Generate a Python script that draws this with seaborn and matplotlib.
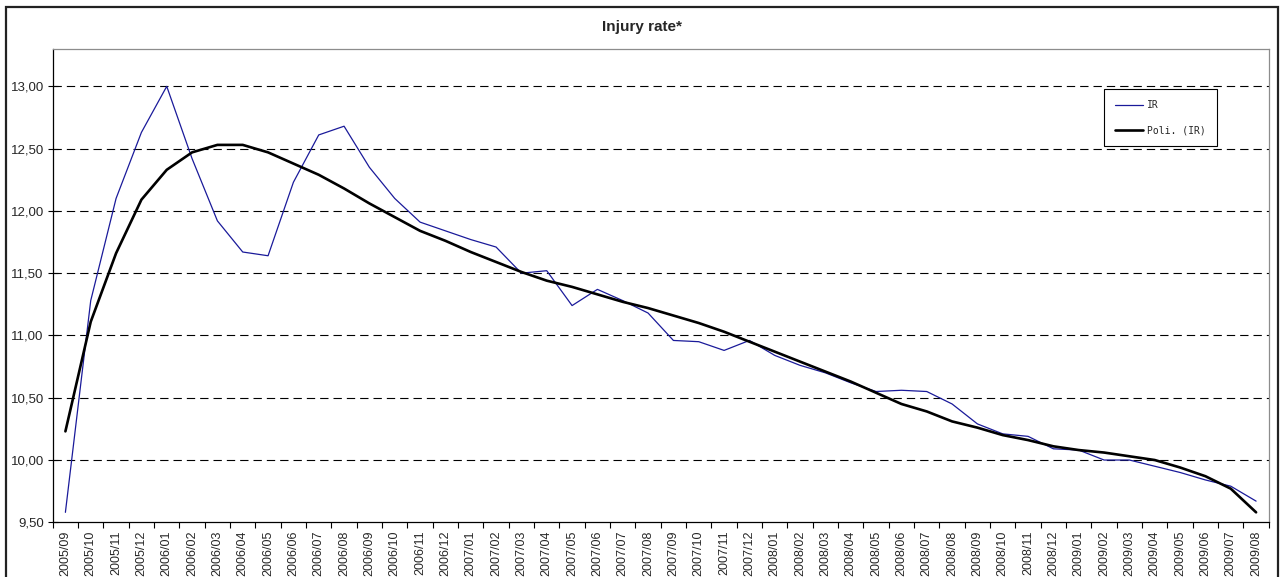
import numpy as np
import pandas as pd
import matplotlib
matplotlib.use("Agg")
import matplotlib.pyplot as plt
import seaborn as sns
from matplotlib.patches import Rectangle
from matplotlib.ticker import FuncFormatter

# Meses (etiquetas del eje x)
months = [
    "2005/09", "2005/10", "2005/11", "2005/12",
    "2006/01", "2006/02", "2006/03", "2006/04", "2006/05", "2006/06",
    "2006/07", "2006/08", "2006/09", "2006/10", "2006/11", "2006/12",
    "2007/01", "2007/02", "2007/03", "2007/04", "2007/05", "2007/06",
    "2007/07", "2007/08", "2007/09", "2007/10", "2007/11", "2007/12",
    "2008/01", "2008/02", "2008/03", "2008/04", "2008/05", "2008/06",
    "2008/07", "2008/08", "2008/09", "2008/10", "2008/11", "2008/12",
    "2009/01", "2009/02", "2009/03", "2009/04", "2009/05", "2009/06",
    "2009/07", "2009/08",
]

# Serie IR
ir = [
    9.58, 11.28, 12.10, 12.63, 13.00, 12.42, 11.92, 11.67, 11.64, 12.23,
    12.61, 12.68, 12.35, 12.10, 11.91, 11.84, 11.77, 11.71, 11.50, 11.52,
    11.24, 11.37, 11.28, 11.18, 10.96, 10.95, 10.88, 10.96, 10.84, 10.76,
    10.70, 10.62, 10.55, 10.56, 10.55, 10.45, 10.29, 10.21, 10.19, 10.09,
    10.08, 10.00, 10.00, 9.95, 9.90, 9.84, 9.79, 9.67,
]

# Linea de tendencia polinomica
trend = [
    10.23, 11.11, 11.66, 12.09, 12.33, 12.47, 12.53, 12.53, 12.47, 12.38,
    12.29, 12.18, 12.06, 11.95, 11.84, 11.76, 11.67, 11.59, 11.51, 11.44,
    11.39, 11.33, 11.27, 11.22, 11.16, 11.10, 11.03, 10.95, 10.87, 10.79,
    10.71, 10.63, 10.54, 10.45, 10.39, 10.31, 10.26, 10.20, 10.16, 10.11,
    10.08, 10.06, 10.03, 10.00, 9.94, 9.87, 9.77, 9.58,
]

yticks = [9.5, 10.0, 10.5, 11.0, 11.5, 12.0, 12.5, 13.0]

df = pd.DataFrame({"pos": np.arange(len(months)), "IR": ir, "trend": trend})

sns.set_style("white")
plt.rcParams["font.family"] = ["Liberation Sans", "DejaVu Sans"]

fig = plt.figure(figsize=(12.83, 5.77), dpi=100)
ax = fig.add_axes([0.0411, 0.0948, 0.9478, 0.8203])

# Borde exterior del grafico
fig.patches.append(Rectangle((6 / 1283, -0.05), 1271.5 / 1283, 1.05 - 7 / 577,
                             transform=fig.transFigure, fill=False,
                             edgecolor="#222222", linewidth=1.6, zorder=0))

sns.lineplot(data=df, x="pos", y="IR", ax=ax, color="#1a1a9a",
             linewidth=0.9, label="IR", sort=False)
sns.lineplot(data=df, x="pos", y="trend", ax=ax, color="black",
             linewidth=1.9, label="Poli. (IR)", sort=False)

ax.set_xlim(-0.5, len(months) - 0.5)
ax.set_ylim(9.5, 13.3)
ax.set_yticks(yticks)
ax.yaxis.set_major_formatter(FuncFormatter(lambda v, p: f"{v:.2f}".replace(".", ",")))

ax.set_xticks(df["pos"])
ax.set_xticklabels(months, rotation=90, fontsize=9)
ax.set_xticks(np.arange(-0.5, len(months)), minor=True)
ax.tick_params(axis="x", which="major", length=0, pad=6)
ax.tick_params(axis="x", which="minor", length=4, width=0.8, color="black",
               direction="out", bottom=True)
ax.tick_params(axis="y", length=7, width=0.8, color="black",
               direction="inout", labelsize=9.5, left=True, pad=3)

ax.set_xlabel("")
ax.set_ylabel("")

# rejilla discontinua
for v in yticks[1:]:
    ax.axhline(v, color="black", linewidth=0.8, linestyle=(0, (7.5, 4.5)), zorder=1)

for s in ["top", "right"]:
    ax.spines[s].set_color("#8c8c8c")
    ax.spines[s].set_linewidth(0.9)
for s in ["left", "bottom"]:
    ax.spines[s].set_color("black")
    ax.spines[s].set_linewidth(0.9)

leg = ax.legend(loc="upper left", bbox_to_anchor=(0.8646, 0.9155),
                borderaxespad=0, fancybox=False, framealpha=1,
                edgecolor="black", handlelength=2.9,
                prop={"family": "DejaVu Sans Mono", "size": 7},
                borderpad=1.15, labelspacing=1.55, handletextpad=0.4)
leg.get_frame().set_linewidth(0.8)

fig.text(0.5, 1 - 27 / 577, "Injury rate*", ha="center", va="center",
         fontsize=11, fontweight="bold")

fig.savefig("out.png", dpi=100)
